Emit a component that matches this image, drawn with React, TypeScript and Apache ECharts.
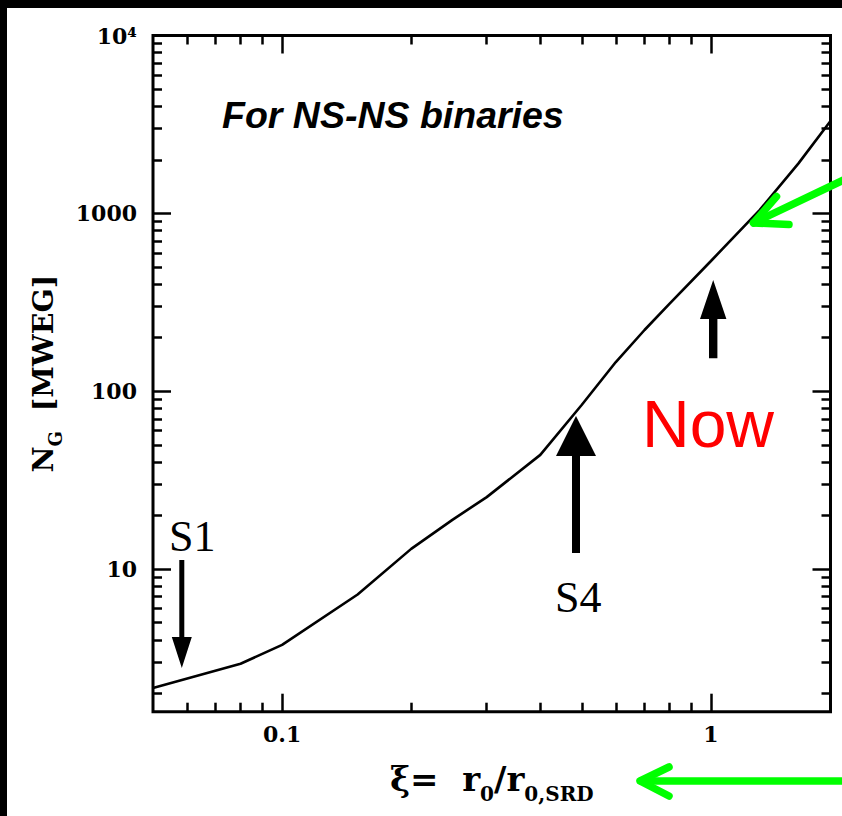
import React, { useEffect, useRef } from 'react';
import * as echarts from 'echarts';

// ---- data ----
const X_MIN = 0.05;
const X_MAX = 1.9;
const Y_MIN = 1.58;
const Y_MAX = 10000;

const xi = [0.05, 0.08, 0.1, 0.15, 0.2, 0.25, 0.3, 0.4, 0.5, 0.6, 0.7, 0.8, 1.0, 1.3, 1.6, 1.9];
const ng = [2.15, 2.94, 3.75, 7.2, 13.0, 19.0, 25.4, 43.9, 84, 146, 221, 310, 540, 1047, 1910, 3310];

const X_MAJOR_TICKS = [0.1, 1];
const X_TICK_LABELS = ['0.1', '1'];
const X_MINOR_TICKS = [0.06, 0.07, 0.08, 0.09, 0.2, 0.3, 0.4, 0.5, 0.6, 0.7, 0.8, 0.9];

const Y_MAJOR_TICKS = [10, 100, 1000, 10000];
const Y_TICK_LABELS = ['10', '100', '1000', '10\u2074'];
const Y_MINOR_TICKS = [
  2, 3, 4, 5, 6, 7, 8, 9,
  20, 30, 40, 50, 60, 70, 80, 90,
  200, 300, 400, 500, 600, 700, 800, 900,
  2000, 3000, 4000, 5000, 6000, 7000, 8000, 9000,
];

// ---- layout ----
const OX = 7; // chart div offset inside the black frame
const OY = 8;
const P = (x: number, y: number) => [x - OX, y - OY];

const SERIF = '"DejaVu Serif", serif';
const MAJOR_LEN = 18;
const MINOR_LEN = 9;
const TICK_W = 2.5;

function labelFor(v: any, ticks: number[], labels: string[]) {
  const num = typeof v === 'object' && v !== null ? Number(v.value) : Number(v);
  for (let i = 0; i < ticks.length; i++) {
    const t = ticks[i];
    if (Math.abs(Math.log10(t) - Math.log10(num)) < 1e-6) return labels[i];
    if (Math.abs(Math.log10(t) - num) < 1e-6) return labels[i];
  }
  return '';
}

function tickAxis(kind: 'x' | 'y', position: string, values: number[], len: number, main?: any) {
  const base: any = {
    type: 'log',
    logBase: 10,
    min: kind === 'x' ? X_MIN : Y_MIN,
    max: kind === 'x' ? X_MAX : Y_MAX,
    position,
    axisLine: { show: false },
    splitLine: { show: false },
    axisTick: {
      show: true,
      inside: true,
      length: len,
      customValues: values,
      lineStyle: { color: '#000', width: TICK_W },
    },
    axisLabel: { show: false },
  };
  return main ? { ...base, ...main } : base;
}

function arrowPoly(cx: number, halfShaft: number, tailY: number, baseY: number, halfHead: number, tipY: number) {
  return [
    P(cx - halfShaft, tailY),
    P(cx + halfShaft, tailY),
    P(cx + halfShaft, baseY),
    P(cx + halfHead, baseY),
    P(cx, tipY),
    P(cx - halfHead, baseY),
    P(cx - halfShaft, baseY),
  ];
}

export default function App() {
  const ref = useRef<HTMLDivElement>(null);

  useEffect(() => {
    if (!ref.current) return;
    const chart = echarts.init(ref.current, undefined, { renderer: 'svg' });

    const green = { stroke: '#00ff00', lineWidth: 7.5, lineCap: 'round', lineJoin: 'round', fill: null };

    const xMain = {
      axisLabel: {
        show: true,
        customValues: X_MAJOR_TICKS,
        formatter: (v: any) => labelFor(v, X_MAJOR_TICKS, X_TICK_LABELS),
        fontFamily: SERIF,
        fontWeight: 'bold',
        fontSize: 22,
        color: '#000',
        margin: 11,
      },
      name: '{m|\u03BE=  r}{s|0}{m|/r}{s|0,SRD}',
      nameLocation: 'middle',
      nameGap: 42,
      nameTextStyle: {
        rich: {
          m: { fontFamily: SERIF, fontWeight: 'bold', fontSize: 34, lineHeight: 50, color: '#000' },
          s: { fontFamily: SERIF, fontWeight: 'bold', fontSize: 20, lineHeight: 22, verticalAlign: 'bottom', color: '#000' },
        },
      },
    };

    const yMain = {
      axisLabel: {
        show: true,
        customValues: Y_MAJOR_TICKS,
        formatter: (v: any) => labelFor(v, Y_MAJOR_TICKS, Y_TICK_LABELS),
        fontFamily: SERIF,
        fontWeight: 'bold',
        fontSize: 22,
        color: '#000',
        margin: 16,
      },
      name: '{m|N}{s|G}{m|  [MWEG]}',
      nameLocation: 'middle',
      nameGap: 68,
      nameTextStyle: {
        rich: {
          m: { fontFamily: SERIF, fontWeight: 'bold', fontSize: 28.5, lineHeight: 44, color: '#000' },
          s: { fontFamily: SERIF, fontWeight: 'bold', fontSize: 18, lineHeight: 20, verticalAlign: 'bottom', color: '#000' },
        },
      },
    };

    const option: any = {
      animation: false,
      backgroundColor: '#ffffff',
      grid: {
        left: 153 - OX,
        right: 835 - (830.5 - OX),
        top: 35.5 - OY,
        bottom: 808 - (711.7 - OY),
        show: true,
        borderColor: '#000',
        borderWidth: 3,
        backgroundColor: 'transparent',
      },
      xAxis: [
        tickAxis('x', 'bottom', X_MAJOR_TICKS, MAJOR_LEN, xMain),
        tickAxis('x', 'bottom', X_MINOR_TICKS, MINOR_LEN),
        tickAxis('x', 'top', X_MAJOR_TICKS, MAJOR_LEN),
        tickAxis('x', 'top', X_MINOR_TICKS, MINOR_LEN),
      ],
      yAxis: [
        tickAxis('y', 'left', Y_MAJOR_TICKS, MAJOR_LEN, yMain),
        tickAxis('y', 'left', Y_MINOR_TICKS, MINOR_LEN),
        tickAxis('y', 'right', Y_MAJOR_TICKS, MAJOR_LEN),
        tickAxis('y', 'right', Y_MINOR_TICKS, MINOR_LEN),
      ],
      series: [
        {
          type: 'line',
          xAxisIndex: 0,
          yAxisIndex: 0,
          data: xi.map((x, i) => [x, ng[i]]),
          showSymbol: false,
          symbol: 'none',
          lineStyle: { color: '#000', width: 2.6 },
          silent: true,
          z: 3,
        },
      ],
      graphic: [
        {
          type: 'text',
          x: P(222, 0)[0],
          y: P(0, 115)[1],
          z: 100,
          style: {
            text: 'For NS-NS binaries',
            fontFamily: '"Liberation Sans", Arial, sans-serif',
            fontWeight: 'bold',
            fontStyle: 'italic',
            fontSize: 37.5,
            fill: '#000',
            textAlign: 'left',
            textVerticalAlign: 'middle',
          },
        },
        {
          type: 'text',
          x: P(708, 0)[0],
          y: P(0, 424)[1],
          z: 100,
          style: {
            text: 'Now',
            fontFamily: '"Liberation Sans", Arial, sans-serif',
            fontSize: 66,
            fill: '#ff0000',
            textAlign: 'center',
            textVerticalAlign: 'middle',
          },
        },
        {
          type: 'text',
          x: P(169, 0)[0],
          y: P(0, 536)[1],
          z: 100,
          style: {
            text: 'S1',
            fontFamily: '"Liberation Serif", "Times New Roman", serif',
            fontSize: 44,
            fill: '#000',
            textAlign: 'left',
            textVerticalAlign: 'middle',
          },
        },
        {
          type: 'text',
          x: P(555, 0)[0],
          y: P(0, 597)[1],
          z: 100,
          style: {
            text: 'S4',
            fontFamily: '"Liberation Serif", "Times New Roman", serif',
            fontSize: 44,
            fill: '#000',
            textAlign: 'left',
            textVerticalAlign: 'middle',
          },
        },
        { type: 'polygon', z: 100, shape: { points: arrowPoly(181.8, 2.5, 560, 637, 10, 668) }, style: { fill: '#000' } },
        { type: 'polygon', z: 100, shape: { points: arrowPoly(576, 4, 553, 456, 20, 416) }, style: { fill: '#000' } },
        { type: 'polygon', z: 100, shape: { points: arrowPoly(713.2, 4.2, 358.3, 319, 13.2, 280) }, style: { fill: '#000' } },
        { type: 'polyline', z: 100, shape: { points: [P(852, 176), P(753.5, 223)] }, style: green },
        { type: 'polyline', z: 100, shape: { points: [P(776.5, 196.5), P(753.5, 223), P(789, 224.5)] }, style: green },
        { type: 'polyline', z: 100, shape: { points: [P(641, 781), P(852, 781)] }, style: green },
        { type: 'polyline', z: 100, shape: { points: [P(669, 767), P(640, 781), P(669, 796)] }, style: green },
      ],
    };

    chart.setOption(option);
    return () => chart.dispose();
  }, []);

  return (
    <div style={{ position: 'fixed', left: 0, top: 0, width: 842, height: 816, background: '#000', overflow: 'hidden' }}>
      <div
        ref={ref}
        style={{ position: 'absolute', left: OX, top: OY, width: 842 - OX, height: 816 - OY, background: '#fff' }}
      />
    </div>
  );
}
